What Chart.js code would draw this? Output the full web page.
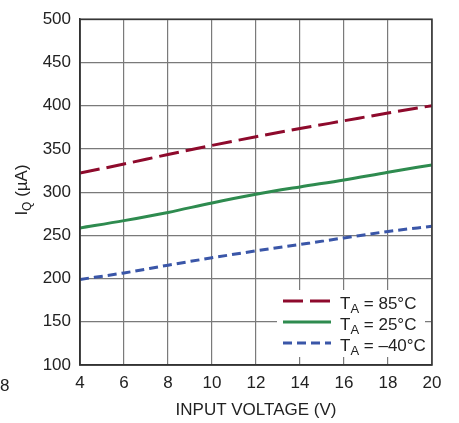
<!DOCTYPE html>
<html>
<head>
<meta charset="utf-8">
<script src="https://cdn.jsdelivr.net/npm/chart.js@4/dist/chart.umd.min.js"></script>
<style>
  html, body { margin: 0; padding: 0; background: #fff; }
  #wrap { width: 459px; height: 423px; }
</style>
</head>
<body>
<div id="wrap"><canvas id="c" width="459" height="423"></canvas></div>
<script>
// input voltage (V)
const voltage = [4, 6, 8, 10, 12, 14, 16, 18, 20];
// quiescent current (uA) per temperature
const iq85 = [322, 332.5, 343.5, 354, 364, 373.5, 382.5, 391.5, 400];
const iq25 = [258.5, 267, 276.5, 287.5, 297.5, 306, 314, 323, 331.5];
const iqMinus40 = [199, 206.5, 215.5, 224, 232, 239.5, 247, 254.5, 260.5];
const xTicks = [4, 6, 8, 10, 12, 14, 16, 18, 20];
const yTicks = [100, 150, 200, 250, 300, 350, 400, 450, 500];

const FONT = '"Liberation Sans Narrow", "Liberation Sans", Arial, sans-serif';
const TXT = '#222';

const RED = '#8e0a2c';
const GREEN = '#2e8b4f';
const BLUE = '#3a56a8';

function pts(ys) {
    return voltage.map((v, i) => ({ x: v, y: ys[i] }));
}

const legendItems = [
    { color: RED, dash: [20, 7], label: '85°C' },
    { color: GREEN, dash: [], label: '25°C' },
    { color: BLUE, dash: [9, 5], label: '–40°C' }
];

const extras = {
    id: 'extras',
    afterDatasetsDraw(chart) {
        const ctx = chart.ctx;
        const a = chart.chartArea;
        ctx.save();

        // legend box
        ctx.fillStyle = '#fff';
        ctx.fillRect(277, 290, 148, 67);
        legendItems.forEach((it, i) => {
            const y = 301 + i * 21;
            ctx.strokeStyle = it.color;
            ctx.lineWidth = 3;
            ctx.setLineDash(it.dash);
            ctx.beginPath();
            ctx.moveTo(283, y);
            ctx.lineTo(331, y);
            ctx.stroke();
            ctx.setLineDash([]);
            ctx.fillStyle = TXT;
            ctx.textBaseline = 'alphabetic';
            ctx.textAlign = 'left';
            ctx.font = '17px ' + FONT;
            let x = 340;
            ctx.fillText('T', x, y + 8);
            x += ctx.measureText('T').width;
            ctx.font = '13px ' + FONT;
            ctx.fillText('A', x, y + 12);
            x += ctx.measureText('A').width;
            ctx.font = '17px ' + FONT;
            ctx.fillText(' = ' + it.label, x, y + 8);
        });

        // frame
        ctx.strokeStyle = '#333';
        ctx.lineWidth = 1.5;
        ctx.strokeRect(a.left, a.top, a.right - a.left, a.bottom - a.top);

        // y axis title with subscript
        ctx.translate(27, 190);
        ctx.rotate(-Math.PI / 2);
        ctx.fillStyle = TXT;
        ctx.textAlign = 'left';
        ctx.textBaseline = 'alphabetic';
        ctx.font = '17px ' + FONT;
        const parts = [['I', 17, 0], ['Q', 12, 4], [' (µA)', 17, 0]];
        let total = 0;
        parts.forEach(p => { ctx.font = p[1] + 'px ' + FONT; total += ctx.measureText(p[0]).width; });
        let x = -total / 2;
        parts.forEach(p => {
            ctx.font = p[1] + 'px ' + FONT;
            ctx.fillText(p[0], x, p[2]);
            x += ctx.measureText(p[0]).width;
        });
        ctx.restore();

        // stray label from the neighbouring figure
        ctx.save();
        ctx.fillStyle = TXT;
        ctx.font = '17px ' + FONT;
        ctx.textAlign = 'left';
        ctx.textBaseline = 'middle';
        ctx.fillText('8', 0, 386);
        ctx.restore();
    }
};

new Chart(document.getElementById('c'), {
    type: 'line',
    data: {
        datasets: [
            { label: 'TA = 85°C', data: pts(iq85), borderColor: RED, borderWidth: 3, borderDash: [20, 7] },
            { label: 'TA = 25°C', data: pts(iq25), borderColor: GREEN, borderWidth: 3 },
            { label: 'TA = –40°C', data: pts(iqMinus40), borderColor: BLUE, borderWidth: 3, borderDash: [9, 5] }
        ]
    },
    options: {
        responsive: false,
        animation: false,
        devicePixelRatio: 1,
        layout: { padding: { top: 14, right: 27, left: 0, bottom: 0 } },
        elements: {
            point: { radius: 0 },
            line: { tension: 0.3, cubicInterpolationMode: 'monotone', borderCapStyle: 'butt' }
        },
        plugins: {
            legend: { display: false },
            tooltip: { enabled: false }
        },
        scales: {
            x: {
                type: 'linear',
                min: 4,
                max: 20,
                afterBuildTicks: s => { s.ticks = xTicks.map(v => ({ value: v })); },
                afterFit: s => { s.height = 58; },
                grid: { color: '#7a7a7a', lineWidth: 1.2, drawTicks: false },
                border: { color: '#333', width: 1.5 },
                ticks: { padding: 8, color: TXT, font: { family: FONT, size: 17 }, maxRotation: 0 },
                title: {
                    display: true,
                    text: 'INPUT VOLTAGE (V)',
                    color: TXT,
                    font: { family: FONT, size: 17 },
                    padding: { top: 4, bottom: 2 }
                }
            },
            y: {
                min: 100,
                max: 500,
                afterBuildTicks: s => { s.ticks = yTicks.map(v => ({ value: v })); },
                afterFit: s => { s.width = 80; },
                grid: { color: '#7a7a7a', lineWidth: 1.2, drawTicks: false },
                border: { color: '#333', width: 1.5 },
                ticks: { padding: 9, color: TXT, font: { family: FONT, size: 17 } }
            }
        }
    },
    plugins: [extras]
});
</script>
</body>
</html>
